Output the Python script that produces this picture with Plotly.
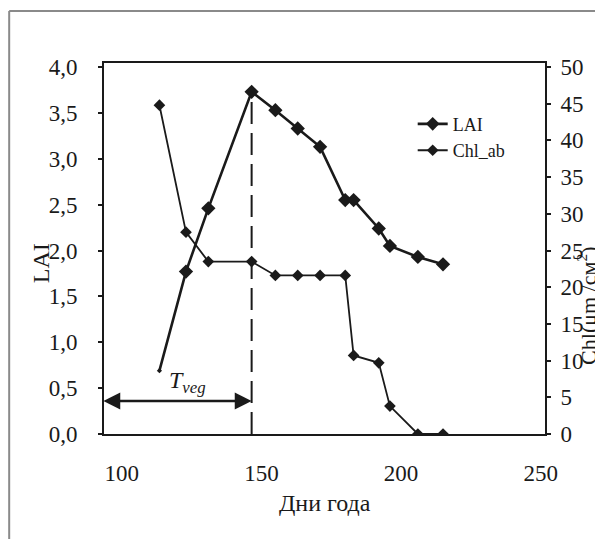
import plotly.graph_objects as go

# ---- data ----
days = [113.5, 123, 131, 146.5, 155, 163, 171, 180, 183, 192, 196, 206, 215]
lai = [0.69, 1.77, 2.46, 3.73, 3.53, 3.33, 3.13, 2.55, 2.55, 2.24, 2.05, 1.93, 1.85]
chl_ab = [44.8, 27.5, 23.5, 23.5, 21.6, 21.6, 21.6, 21.6, 10.7, 9.7, 3.8, 0, 0]

x_ticks = [100, 150, 200, 250]
x_tick_labels = ["100", "150", "200", "250"]
lai_ticks = [0, 0.5, 1.0, 1.5, 2.0, 2.5, 3.0, 3.5, 4.0]
lai_tick_labels = ["0,0", "0,5", "1,0", "1,5", "2,0", "2,5", "3,0", "3,5", "4,0"]
chl_ticks = [0, 5, 10, 15, 20, 25, 30, 35, 40, 45, 50]
chl_tick_labels = [str(v) for v in chl_ticks]

FONT = "Liberation Serif"
INK = "#1a1a1a"

fig = go.Figure()

fig.add_trace(go.Scatter(
    x=days, y=lai, name="LAI", mode="lines+markers",
    line=dict(color=INK, width=2.6),
    marker=dict(symbol="diamond", size=[4] + [11] * (len(lai) - 1), color=INK, opacity=1,
                line=dict(color=INK, width=0)),
    yaxis="y",
))
fig.add_trace(go.Scatter(
    x=days, y=chl_ab, name="Chl_ab", mode="lines+markers",
    line=dict(color=INK, width=1.8),
    marker=dict(symbol="diamond", size=9, color=INK, opacity=1, line=dict(color=INK, width=0)),
    yaxis="y2",
))

# peak of LAI -> end of vegetation period
i_peak = max(range(len(lai)), key=lambda i: lai[i])
t_veg = days[i_peak]
lai_peak = lai[i_peak]

x_lo, x_hi = 93.66, 251.5

fig.add_shape(type="line", xref="x", yref="y", x0=t_veg, x1=t_veg, y0=0, y1=lai_peak,
              line=dict(color=INK, width=2, dash="22px,9px"))

# outer frame (top + left visible)
fig.add_shape(type="line", xref="paper", yref="paper", x0=-0.215, x1=1.14, y0=1.14, y1=1.14,
              line=dict(color="#8a8a8a", width=2))
fig.add_shape(type="line", xref="paper", yref="paper", x0=-0.215, x1=-0.215, y0=1.14, y1=-0.3,
              line=dict(color="#8a8a8a", width=2))

annotations = [
    # Tveg double arrow
    dict(x=t_veg, y=0.36, ax=92.9, ay=0.36, xref="x", yref="y", axref="x", ayref="y",
         showarrow=True, arrowhead=2, startarrowhead=2, arrowside="end+start",
         arrowsize=1.3, startarrowsize=1.3, arrowwidth=2.6, arrowcolor=INK, text=""),
    dict(x=123.5, y=0.57, xref="x", yref="y", showarrow=False,
         xanchor="center", yanchor="middle",
         text="<i>T</i><i><sub>veg</sub></i>", font=dict(family=FONT, size=24, color=INK)),
    # axis titles
    dict(x=-0.143, y=0.46, xref="paper", yref="paper", showarrow=False, textangle=-90,
         xanchor="center", yanchor="middle",
         text="LAI", font=dict(family=FONT, size=24, color=INK)),
    dict(x=1.095, y=0.345, xref="paper", yref="paper", showarrow=False, textangle=-90,
         xanchor="center", yanchor="middle",
         text="Chl(μm /cм<sup>2</sup>)", font=dict(family=FONT, size=22, color=INK)),
    dict(x=0.5, y=-0.186, xref="paper", yref="paper", showarrow=False,
         xanchor="center", yanchor="middle",
         text="Дни года", font=dict(family=FONT, size=24, color=INK)),
]

# page body has an 8px margin, so the figure is drawn 8px smaller and all offsets shifted
fig.update_layout(
    width=595, height=531,
    margin=dict(l=96, r=58, t=55, b=105, autoexpand=False),
    paper_bgcolor="white", plot_bgcolor="white",
    font=dict(family=FONT, size=22, color=INK),
    showlegend=True,
    legend=dict(x=0.70, y=0.885, xanchor="left", yanchor="top", bgcolor="rgba(0,0,0,0)",
                font=dict(family=FONT, size=18, color=INK), itemwidth=30, tracegroupgap=0),
    annotations=annotations,
    xaxis=dict(range=[x_lo, x_hi], tickvals=x_ticks, ticktext=x_tick_labels,
               showline=True, linecolor=INK, linewidth=2, mirror=True,
               showgrid=False, zeroline=False, ticks="", ticklabelstandoff=17,
               automargin=False,
               tickfont=dict(family=FONT, size=23, color=INK)),
    yaxis=dict(range=[0, 4.044], tickvals=lai_ticks, ticktext=lai_tick_labels,
               showline=True, linecolor=INK, linewidth=2,
               showgrid=False, zeroline=False, ticks="outside", ticklen=4, tickwidth=1.5,
               tickcolor=INK, ticklabelstandoff=16, automargin=False,
               tickfont=dict(family=FONT, size=23, color=INK)),
    yaxis2=dict(range=[0, 50.55], tickvals=chl_ticks, ticktext=chl_tick_labels,
                overlaying="y", side="right",
                showline=True, linecolor=INK, linewidth=2,
                showgrid=False, zeroline=False, ticks="outside", ticklen=4, tickwidth=1.5,
                tickcolor=INK, ticklabelstandoff=5, automargin=False,
                tickfont=dict(family=FONT, size=23, color=INK)),
)

fig.write_html("out.html")
